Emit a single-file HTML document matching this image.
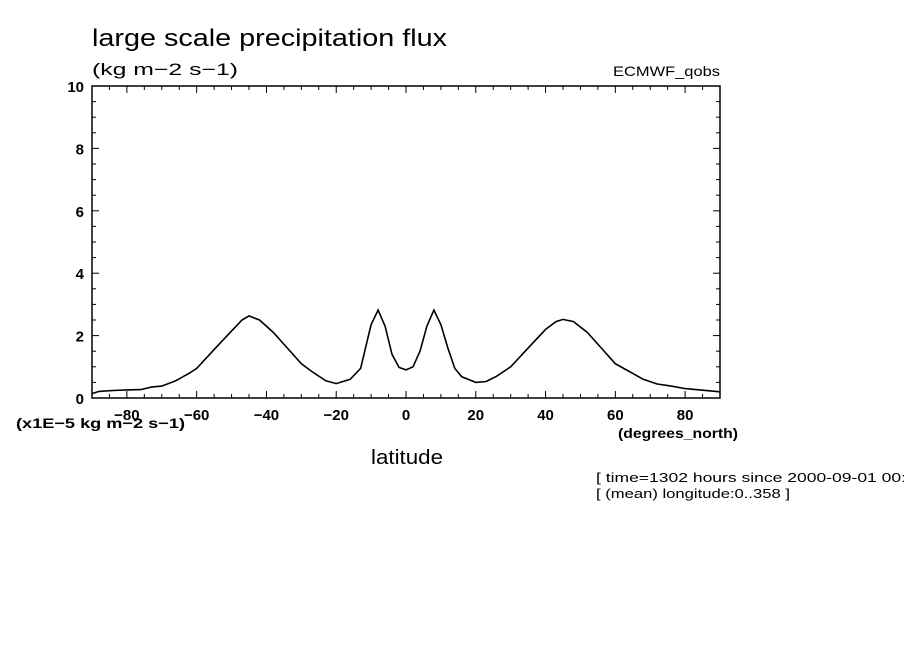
<!DOCTYPE html>
<html><head><meta charset="utf-8"><style>
body{margin:0;background:#fff;}
svg text{font-family:"Liberation Sans",sans-serif;fill:#000;}
</style></head><body>
<svg id="chart" width="904" height="654" xmlns="http://www.w3.org/2000/svg">
<rect width="904" height="654" fill="#fff"/>
<text x="92" y="46" font-size="24" textLength="355" lengthAdjust="spacingAndGlyphs">large scale precipitation flux</text>
<text x="92" y="75" font-size="17" textLength="146" lengthAdjust="spacingAndGlyphs">(kg m−2 s−1)</text>
<text x="613" y="76" font-size="14" textLength="107" lengthAdjust="spacingAndGlyphs">ECMWF_qobs</text>
<text x="16" y="428" font-size="14" font-weight="bold" textLength="169" lengthAdjust="spacingAndGlyphs">(x1E−5 kg m−2 s−1)</text>
<text x="618" y="438" font-size="14" font-weight="bold" textLength="120" lengthAdjust="spacingAndGlyphs">(degrees_north)</text>
<text x="371" y="464" font-size="20" textLength="72" lengthAdjust="spacingAndGlyphs">latitude</text>
<text x="596" y="482" font-size="13" textLength="310" lengthAdjust="spacingAndGlyphs">[ time=1302 hours since 2000-09-01 00:</text>
<text x="596" y="498" font-size="13" textLength="194" lengthAdjust="spacingAndGlyphs">[ (mean) longitude:0..358 ]</text>
<g id="axes"></g>
<path id="line" fill="none" stroke="#000" stroke-width="1.6"/>
</svg>
<script>
const lats=[-90,-88,-84,-80,-76,-73,-70,-66,-62,-60,-55,-50,-47,-45,-42,-38,-34,-30,-27,-23,-20,-16,-13,-10,-8,-6,-4,-2,0,2,4,6,8,10,12,14,16,20,23,26,30,35,40,43,45,48,52,56,60,64,68,72,76,80,85,90];
const values=[0.14,0.21,0.24,0.26,0.27,0.35,0.38,0.55,0.8,0.95,1.55,2.15,2.5,2.63,2.5,2.1,1.6,1.1,0.85,0.55,0.46,0.6,0.95,2.35,2.82,2.3,1.4,0.98,0.9,1.0,1.5,2.3,2.82,2.35,1.6,0.95,0.68,0.5,0.53,0.7,1.0,1.6,2.2,2.45,2.52,2.45,2.1,1.6,1.1,0.85,0.6,0.45,0.38,0.3,0.25,0.2];
const xTicks=[-80,-60,-40,-20,0,20,40,60,80];
const yTicks=[0,2,4,6,8,10];
const X0=92,X1=720,Y0=398,Y1=86;
const xs=v=>X0+(v+90)/180*(X1-X0);
const ys=v=>Y0-v/10*(Y0-Y1);
const NS="http://www.w3.org/2000/svg";
const g=document.getElementById('axes');
function mk(t,a){const e=document.createElementNS(NS,t);for(const k in a)e.setAttribute(k,a[k]);g.appendChild(e);return e;}
const fr=mk('rect',{x:X0,y:Y1,width:X1-X0,height:Y0-Y1,fill:'none',stroke:'#000','stroke-width':1.5});


for(let v=-90;v<=90;v+=5){const x=xs(v);const L=v%20===0?7:4;
 mk('line',{x1:x,y1:Y0,x2:x,y2:Y0-L,stroke:'#000'});mk('line',{x1:x,y1:Y1,x2:x,y2:Y1+L,stroke:'#000'});}
for(let v=0;v<=10;v+=0.5){const y=ys(v);const L=(Math.abs(v%2)<1e-9)?7:4;
 mk('line',{x1:X0,y1:y,x2:X0+L,y2:y,stroke:'#000'});mk('line',{x1:X1,y1:y,x2:X1-L,y2:y,stroke:'#000'});}
xTicks.forEach(v=>{const t=mk('text',{x:xs(v),y:Y0+22,'font-size':15,'font-weight':'bold','text-anchor':'middle'});t.textContent=(v<0?'−':'')+Math.abs(v);
 
 });
yTicks.forEach(v=>{const t=mk('text',{x:X0-8,y:ys(v)+6,'font-size':15,'font-weight':'bold','text-anchor':'end'});t.textContent=v;
 
 });
document.getElementById('line').setAttribute('d',lats.map((l,i)=>(i?'L':'M')+xs(l).toFixed(1)+','+ys(values[i]).toFixed(1)).join(''));
</script>
</body></html>
